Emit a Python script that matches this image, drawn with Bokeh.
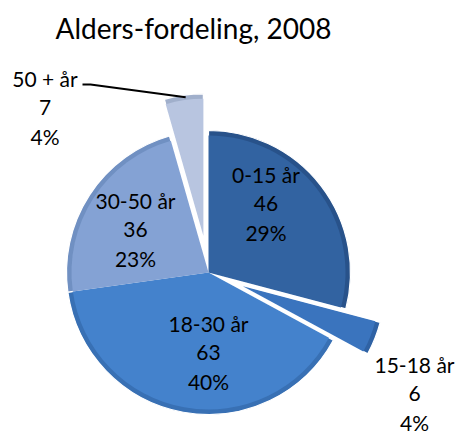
import math
from bokeh.plotting import figure
from bokeh.models import Range1d, ColumnDataSource
from bokeh.core.properties import value
from bokeh.embed import file_html
from bokeh.resources import INLINE

# ---- data ----
title_text = "Alders-fordeling, 2008"
categories = ["0-15 år", "15-18 år", "18-30 år", "30-50 år", "50 + år"]
counts = [46, 6, 63, 36, 7]

# ---- style / layout ----
colors = ["#3263A1", "#3A74BE", "#4482CC", "#84A2D4", "#B8C5E0"]
edge_colors = ["#28528A", "#2F62A4", "#3870B4", "#7090C2", "#A0AFCB"]
explode = [0, 37, 0, 0, 37]
W, H = 459, 435
IMG_H = 435
CX, CY_IMG = 208, 272
R = 142
FONT = "Lato"
TSHIFT = -9  # empirical baseline correction

def Y(yimg):
    return IMG_H - yimg

p = figure(width=W, height=H, output_backend="svg", toolbar_location=None,
           x_range=Range1d(0, W), y_range=Range1d(0, H), min_border=0)
p.axis.visible = False
p.grid.visible = False
p.outline_line_color = None
p.background_fill_color = "white"

total = sum(counts)
cy = Y(CY_IMG)
xs, ys, starts, ends, mids = [], [], [], [], []
cum = 0.0
for c, e in zip(counts, explode):
    t1 = cum / total * 2 * math.pi
    cum += c
    t2 = cum / total * 2 * math.pi
    tm = (t1 + t2) / 2
    xs.append(CX + e * math.sin(tm))
    ys.append(cy + e * math.cos(tm))
    starts.append(math.pi / 2 - t1)
    ends.append(math.pi / 2 - t2)
    mids.append(tm)

src = ColumnDataSource(dict(x=xs, y=ys, s=starts, e=ends, c=colors, ec=edge_colors))
# rim
p.wedge(x="x", y="y", radius=R, start_angle="s", end_angle="e", direction="clock",
        fill_color="ec", line_color="white", line_width=1.2, source=src)
# inner face (bevel look)
p.wedge(x="x", y="y", radius=R - 5, start_angle="s", end_angle="e", direction="clock",
        fill_color="c", line_color=None, source=src)

# ---- labels ----
pcts = [f"{round(c / total * 100)}%" for c in counts]
label_pos = [(265.5, 183), (414, 373), (208, 332), (135, 209), (44.5, 87)]
LINE = 29
lx, ly, lt = [], [], []
for (x0, yb), cat, cnt, pc in zip(label_pos, categories, counts, pcts):
    for i, t in enumerate([cat, str(cnt), pc]):
        lx.append(x0)
        ly.append(Y(yb + i * LINE + TSHIFT))
        lt.append(t)
p.text(x=lx, y=ly, text=lt, text_align="center", text_baseline="alphabetic",
       text_font=value(FONT), text_font_size="21px", text_color="black")

# leader line for 50+
k = 4
ex = CX + (R + explode[k]) * math.sin(mids[k]) + 2
ey = cy + (R + explode[k]) * math.cos(mids[k]) - 2
p.line(x=[82, 90, ex], y=[Y(84), Y(84), ey], line_color="black", line_width=2)

# title
p.text(x=[193], y=[Y(36 + TSHIFT)], text=[title_text], text_align="center",
       text_baseline="alphabetic", text_font=value(FONT), text_font_size="28px",
       text_color="black")

open("out.html", "w").write(file_html(p, INLINE))
